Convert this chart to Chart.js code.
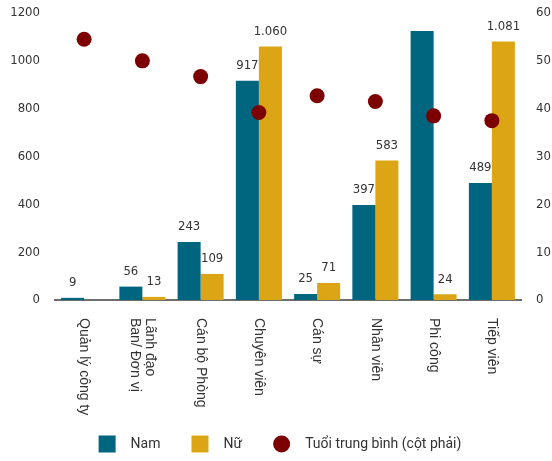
<!DOCTYPE html>
<html><head><meta charset="utf-8">
<script src="https://cdn.jsdelivr.net/npm/chart.js@4"></script>
<style>html,body{margin:0;padding:0;background:#fff}canvas{display:block}</style>
</head><body><canvas id="c" width="552" height="461"></canvas>
<script>
const categories = [["Quản lý công ty"], ["Lãnh đạo", "Ban/ Đơn vị"], ["Cán bộ Phòng"], ["Chuyên viên"], ["Cán sự"], ["Nhân viên"], ["Phi công"], ["Tiếp viên"]];
const namValues = [9, 56, 243, 917, 25, 397, 1125, 489];
const nuValues = [0, 13, 109, 1060, 71, 583, 24, 1081];
const ageValues = [54.5, 50, 46.7, 39.2, 42.7, 41.5, 38.5, 37.5];
const seriesNames = ["Nam", "Nữ", "Tuổi trung bình (cột phải)"];
const leftAxis = {min: 0, max: 1200, step: 200};
const rightAxis = {min: 0, max: 60, step: 10};

const COL_NAM = '#00667f', COL_NU = '#dca515', COL_AGE = '#7d0000';
const TXT = '#333333';
const NUM_FAMILY = '"DejaVu Sans Condensed", "DejaVu Sans", sans-serif';
const NUM_FONT = '13px ' + NUM_FAMILY;
const LEGEND_FONT = '14px Roboto, "Liberation Sans", sans-serif';

function fmt(v) { return String(v).replace(/\B(?=(\d{3})+(?!\d))/g, '.'); }

const valueLabels = {
  id: 'valueLabels',
  afterDatasetsDraw(chart) {
    const ctx = chart.ctx, area = chart.chartArea;
    ctx.save();
    ctx.font = NUM_FONT; ctx.fillStyle = TXT; ctx.textAlign = 'center'; ctx.textBaseline = 'middle';
    [0, 1].forEach(di => {
      const meta = chart.getDatasetMeta(di);
      const vals = chart.data.datasets[di].data;
      meta.data.forEach((bar, i) => {
        const v = vals[i];
        if (!v) return;
        const y = bar.y - 15;
        if (y < area.top + 8) return;
        ctx.fillText(fmt(v), bar.x, y);
      });
    });
    ctx.restore();
  }
};

const xLabels = {
  id: 'xLabels',
  afterDraw(chart) {
    const ctx = chart.ctx, xs = chart.scales.x;
    ctx.save();
    ctx.font = '14px "Liberation Sans", Arial, sans-serif'; ctx.fillStyle = TXT;
    ctx.textAlign = 'left'; ctx.textBaseline = 'middle';
    categories.forEach((lines, i) => {
      const cx = xs.getPixelForValue(i);
      const n = lines.length;
      lines.forEach((t, j) => {
        const px = cx + ((n - 1) / 2 - j) * 15;
        ctx.save();
        ctx.translate(px, chart.chartArea.bottom + 18);
        ctx.rotate(Math.PI / 2);
        ctx.fillText(t, 0, 0);
        ctx.restore();
      });
    });
    ctx.restore();
  }
};

const customLegend = {
  id: 'customLegend',
  afterDraw(chart) {
    const ctx = chart.ctx;
    ctx.save();
    ctx.font = LEGEND_FONT; ctx.fillStyle = TXT;
    ctx.textBaseline = 'middle'; ctx.textAlign = 'left';
    const box = 17, gap = 15, itemGap = 31, cy = 444;
    const colors = [COL_NAM, COL_NU, COL_AGE];
    const widths = seriesNames.map(s => ctx.measureText(s).width);
    let total = 0;
    widths.forEach((w, i) => { total += box + gap + w + (i < widths.length - 1 ? itemGap : 0); });
    let x = (chart.width - total) / 2 + 4;
    seriesNames.forEach((s, i) => {
      ctx.fillStyle = colors[i];
      if (i < 2) ctx.fillRect(x, cy - box / 2, box, box);
      else { ctx.beginPath(); ctx.arc(x + box / 2, cy, 8.5, 0, Math.PI * 2); ctx.fill(); }
      ctx.fillStyle = TXT;
      ctx.fillText(s, x + box + gap, cy);
      x += box + gap + widths[i] + itemGap;
    });
    ctx.restore();
  }
};

function noVPad(s) { s.paddingTop = 0; s.paddingBottom = 0; }

new Chart(document.getElementById('c'), {
  type: 'bar',
  data: {
    labels: categories.map(c => c.join(' ')),
    datasets: [
      {label: seriesNames[0], data: namValues, backgroundColor: COL_NAM, yAxisID: 'y', order: 2, barPercentage: 1, categoryPercentage: 0.79},
      {label: seriesNames[1], data: nuValues, backgroundColor: COL_NU, yAxisID: 'y', order: 2, barPercentage: 1, categoryPercentage: 0.79},
      {label: seriesNames[2], data: ageValues, type: 'line', showLine: false, yAxisID: 'y1', order: 0,
       pointRadius: 7.5, pointHoverRadius: 7.5, pointBackgroundColor: COL_AGE, pointBorderColor: COL_AGE, pointBorderWidth: 0}
    ]
  },
  options: {
    responsive: false, animation: false, devicePixelRatio: 1,
    layout: {padding: {top: 13, left: 0, right: 0, bottom: 0}},
    plugins: {legend: {display: false}, tooltip: {enabled: false}},
    scales: {
      x: {
        grid: {display: false, drawTicks: false},
        border: {display: true, color: '#6e6e6e', width: 2},
        ticks: {display: false},
        afterFit(s) { s.height = 161; s.paddingLeft = 0; s.paddingRight = 0; }
      },
      y: {
        position: 'left', min: leftAxis.min, max: leftAxis.max,
        grid: {display: false, drawTicks: false}, border: {display: false},
        ticks: {stepSize: leftAxis.step, padding: 15, color: TXT, font: {family: NUM_FAMILY, size: 13}, callback: v => String(v)},
        afterFit(s) { s.width = 55; noVPad(s); }
      },
      y1: {
        position: 'right', min: rightAxis.min, max: rightAxis.max,
        grid: {display: false, drawTicks: false}, border: {display: false},
        ticks: {stepSize: rightAxis.step, padding: 15, color: TXT, font: {family: NUM_FAMILY, size: 13}, callback: v => String(v)},
        afterFit(s) { s.width = 31; noVPad(s); }
      }
    }
  },
  plugins: [valueLabels, xLabels, customLegend]
});
</script>
</body></html>
